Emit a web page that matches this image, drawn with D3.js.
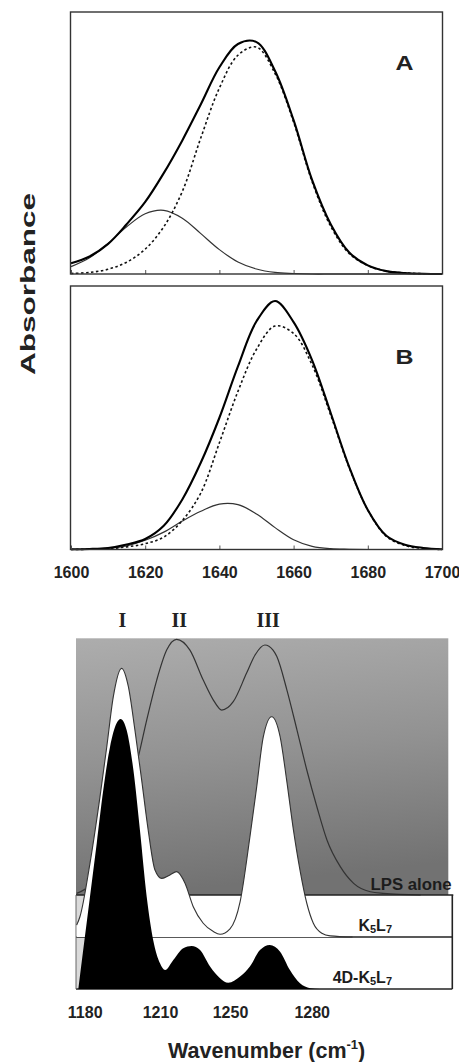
<!DOCTYPE html>
<html>
<head>
<meta charset="utf-8">
<script src="https://cdn.jsdelivr.net/npm/d3@7"></script>
<style>
  body { margin: 0; background: #fff; }
  svg { display: block; }
</style>
</head>
<body>
<svg class="chart" width="459" height="1062"></svg>
<script>
// ---- amide I band fits (top panels), absorbance in arbitrary units ----
const wnTop = [1600, 1605, 1610, 1615, 1620, 1625, 1630, 1635, 1640, 1645, 1650,
               1655, 1660, 1665, 1670, 1675, 1680, 1685, 1690, 1695, 1700];
const topTicks = [1600, 1620, 1640, 1660, 1680, 1700];

const aTotal = [0.041, 0.067, 0.115, 0.19, 0.275, 0.385, 0.51, 0.648, 0.789, 0.878, 0.885,
                0.775, 0.587, 0.358, 0.19, 0.082, 0.033, 0.011, 0.004, 0.001, 0];
const aMain  = [0.002, 0.006, 0.018, 0.045, 0.095, 0.18, 0.315, 0.52, 0.71, 0.835, 0.866,
                0.765, 0.58, 0.352, 0.182, 0.078, 0.032, 0.011, 0.004, 0.001, 0];
const aMinor = [0.028, 0.062, 0.116, 0.18, 0.23, 0.243, 0.213, 0.154, 0.093, 0.046, 0.019,
                0.006, 0.002, 0, 0, 0, 0, 0, 0, 0, 0];

const bTotal = [0.001, 0.002, 0.006, 0.019, 0.04, 0.09, 0.19, 0.33, 0.5, 0.695, 0.866,
                0.943, 0.863, 0.718, 0.518, 0.313, 0.15, 0.052, 0.018, 0.006, 0.001];
const bMain  = [0, 0.001, 0.003, 0.01, 0.022, 0.047, 0.11, 0.215, 0.405, 0.6, 0.76,
                0.848, 0.82, 0.70, 0.51, 0.31, 0.15, 0.05, 0.015, 0.004, 0];
const bMinor = [0, 0.001, 0.005, 0.014, 0.035, 0.066, 0.108, 0.145, 0.172, 0.17, 0.135,
                0.083, 0.037, 0.012, 0.003, 0.001, 0, 0, 0, 0, 0];

// ---- phosphate region spectra (bottom panel) ----
const bottomTicks = [1180, 1210, 1250, 1280];
const bandNames = ["I", "II", "III"];
const bandWn = [1195, 1221, 1264];

const lpsWn  = [1176.8, 1182.1, 1186.1, 1190.1, 1194.1, 1198.1, 1200.7, 1204.7, 1208.7, 1213.8,
                1219.5, 1227.1, 1234.7, 1240.5, 1245.3, 1251.2, 1256.1, 1259.2, 1262.8, 1265.8,
                1267.2, 1270.9, 1274.6, 1278.2, 1281.9, 1285.6, 1290.5, 1295.4, 1301.5, 1306.4, 1320];
const lpsAbs = [0.006, 0.037, 0.093, 0.185, 0.315, 0.415, 0.488, 0.648, 0.796, 0.907,
                0.947, 0.907, 0.796, 0.722, 0.685, 0.716, 0.822, 0.889, 0.926, 0.907,
                0.883, 0.759, 0.611, 0.463, 0.327, 0.204, 0.105, 0.043, 0.012, 0.006, 0];

const k5Wn  = [1176.8, 1178.1, 1182.1, 1186.1, 1188.8, 1191.4, 1194.7, 1197.4, 1200, 1202.7,
               1205.3, 1208, 1211, 1215.7, 1219.5, 1224.3, 1229, 1234.7, 1240.5, 1244.3,
               1250, 1253.7, 1257.3, 1259.8, 1262.2, 1265.3, 1268.4, 1270.8, 1273.3, 1275.7,
               1278.2, 1280.6, 1283.7, 1286.8, 1295];
const k5Abs = [0.044, 0.075, 0.273, 0.52, 0.705, 0.89, 0.995, 0.927, 0.767, 0.581,
               0.396, 0.248, 0.217, 0.23, 0.242, 0.199, 0.112, 0.051, 0.02, 0.01,
               0.03, 0.13, 0.37, 0.556, 0.74, 0.816, 0.742, 0.581, 0.396, 0.248,
               0.125, 0.051, 0.014, 0.004, 0];

const d4Wn  = [1177.5, 1179.4, 1182.1, 1184.8, 1187.4, 1190.1, 1192.7, 1194.3, 1196.7, 1199.4,
               1202, 1204.7, 1207.3, 1210, 1212.9, 1217.6, 1223.3, 1228.1, 1232.9, 1238.6,
               1244.3, 1249, 1253.7, 1257.3, 1261, 1264.6, 1268.4, 1272, 1275.7, 1279.4, 1283];
const d4Abs = [0.003, 0.144, 0.342, 0.54, 0.737, 0.897, 0.984, 1.0, 0.959, 0.811,
               0.589, 0.342, 0.181, 0.095, 0.07, 0.107, 0.151, 0.159, 0.144, 0.083,
               0.04, 0.023, 0.046, 0.083, 0.144, 0.163, 0.138, 0.07, 0.021, 0.003, 0];

const svg = d3.select(".chart");
const ink = "#222";
const sans = "Liberation Sans, Arial, sans-serif";

// ================= top panels =================
const x = d3.scaleLinear().domain([1600, 1700]).range([71, 442]);
const frameL = 70.5, frameR = 442.5;

const panels = [
  {label: "A", top: 12, bottom: 274, total: aTotal, main: aMain, minor: aMinor, labels: false},
  {label: "B", top: 286, bottom: 549.5, total: bTotal, main: bMain, minor: bMinor, labels: true}
];

panels.forEach(p => {
  const y = d3.scaleLinear().domain([0, 1]).range([p.bottom, p.top]);
  const g = svg.append("g");

  const line = d3.line()
      .x(d => x(d[0]))
      .y(d => y(d[1]))
      .curve(d3.curveCatmullRom);

  g.append("path")
      .datum(d3.zip(wnTop, p.minor))
      .attr("fill", "none")
      .attr("stroke", "#333")
      .attr("stroke-width", 1.2)
      .attr("d", line);

  g.append("path")
      .datum(d3.zip(wnTop, p.main))
      .attr("fill", "none")
      .attr("stroke", "#111")
      .attr("stroke-width", 1.6)
      .attr("stroke-dasharray", "2.5,2.5")
      .attr("d", line);

  g.append("path")
      .datum(d3.zip(wnTop, p.total))
      .attr("fill", "none")
      .attr("stroke", "#000")
      .attr("stroke-width", 2.1)
      .attr("d", line);

  const axis = g.append("g")
      .attr("transform", `translate(0,${p.bottom})`)
      .call(d3.axisBottom(x)
          .tickValues(topTicks)
          .tickSizeInner(-4)
          .tickSizeOuter(0)
          .tickPadding(17)
          .tickFormat(p.labels ? d3.format("d") : () => ""));
  axis.select(".domain").remove();
  axis.selectAll("line").attr("stroke", "#555");
  axis.selectAll("text")
      .attr("font-family", sans)
      .attr("font-weight", "bold")
      .attr("font-size", 16)
      .attr("fill", ink);

  g.append("rect")
      .attr("x", frameL)
      .attr("y", p.top)
      .attr("width", frameR - frameL)
      .attr("height", p.bottom - p.top)
      .attr("fill", "none")
      .attr("stroke", "#333")
      .attr("stroke-width", 1.4);

  g.append("text")
      .attr("x", 395.5)
      .attr("y", p.top + (p.label === "A" ? 57.5 : 77.5))
      .attr("font-family", sans)
      .attr("font-weight", "bold")
      .attr("font-size", 21)
      .attr("textLength", 18)
      .attr("lengthAdjust", "spacingAndGlyphs")
      .attr("fill", ink)
      .text(p.label);
});

svg.append("text")
    .attr("transform", "translate(35,284) rotate(-90)")
    .attr("text-anchor", "middle")
    .attr("font-family", sans)
    .attr("font-weight", "bold")
    .attr("font-size", 21)
    .attr("textLength", 182)
    .attr("lengthAdjust", "spacingAndGlyphs")
    .attr("fill", ink)
    .text("Absorbance");

// ================= bottom panel =================
// tick labels are unevenly spaced in the original, so the scale is piecewise
const xb = d3.scaleLinear().domain(bottomTicks).range([84.7, 160, 230, 311.7]);
const boxL = 76, boxR = 452.3, gradR = 448.3;
const gradTop = 638.3, lpsBase = 895, k5Base = 937, d4Base = 989;
const hb = 270;

const yLps = d3.scaleLinear().domain([0, 1]).range([lpsBase, lpsBase - hb]);
const yK5  = d3.scaleLinear().domain([0, 1]).range([k5Base, k5Base - hb]);
const yD4  = d3.scaleLinear().domain([0, 1]).range([d4Base, d4Base - hb]);

const defs = svg.append("defs");
const grad = defs.append("linearGradient")
    .attr("id", "bg")
    .attr("x1", 0).attr("y1", 0)
    .attr("x2", 0.15).attr("y2", 1);
grad.append("stop").attr("offset", 0).attr("stop-color", "#adadad");
grad.append("stop").attr("offset", 0.5).attr("stop-color", "#929292");
grad.append("stop").attr("offset", 1).attr("stop-color", "#727272");

const bot = svg.append("g");

bot.append("rect")
    .attr("x", boxL)
    .attr("y", gradTop)
    .attr("width", gradR - boxL)
    .attr("height", lpsBase - gradTop)
    .attr("fill", "url(#bg)");

// light grey left of the first band inside the two lower strips
bot.append("rect")
    .attr("x", boxL)
    .attr("y", lpsBase)
    .attr("width", xb(bandWn[0]) - boxL)
    .attr("height", d4Base - lpsBase)
    .attr("fill", "#dadada");

const lpsLine = d3.line()
    .x(d => xb(d[0]))
    .y(d => yLps(d[1]))
    .curve(d3.curveMonotoneX);

bot.append("path")
    .datum(d3.zip(lpsWn, lpsAbs))
    .attr("fill", "none")
    .attr("stroke", "#333")
    .attr("stroke-width", 1.2)
    .attr("d", lpsLine);

// strip borders
const hLines = [[lpsBase, boxR + 1], [k5Base, boxR], [d4Base, boxR]];
bot.selectAll(".hline")
    .data(hLines)
    .join("line")
    .attr("x1", boxL)
    .attr("x2", d => d[1])
    .attr("y1", d => d[0])
    .attr("y2", d => d[0])
    .attr("stroke", ink)
    .attr("stroke-width", 1.6);

bot.append("line")
    .attr("x1", boxR).attr("x2", boxR)
    .attr("y1", lpsBase).attr("y2", d4Base)
    .attr("stroke", ink)
    .attr("stroke-width", 1.6);

bot.append("line")
    .attr("x1", boxL).attr("x2", boxL)
    .attr("y1", lpsBase).attr("y2", d4Base)
    .attr("stroke", "#666")
    .attr("stroke-width", 1);

// K5L7: white band
const k5Data = d3.zip(k5Wn, k5Abs);
bot.append("path")
    .datum(k5Data)
    .attr("fill", "#fff")
    .attr("d", d3.area()
        .x(d => xb(d[0]))
        .y0(k5Base)
        .y1(d => yK5(d[1]))
        .curve(d3.curveMonotoneX));

bot.append("path")
    .datum(k5Data)
    .attr("fill", "none")
    .attr("stroke", "#333")
    .attr("stroke-width", 1.1)
    .attr("d", d3.line()
        .x(d => xb(d[0]))
        .y(d => yK5(d[1]))
        .curve(d3.curveMonotoneX));

// 4D-K5L7: black band
bot.append("path")
    .datum(d3.zip(d4Wn, d4Abs))
    .attr("fill", "#000")
    .attr("d", d3.area()
        .x(d => xb(d[0]))
        .y0(d4Base)
        .y1(d => yD4(d[1]))
        .curve(d3.curveMonotoneX));

// band numerals
bot.selectAll(".band")
    .data(d3.zip(bandNames, bandWn))
    .join("text")
    .attr("x", d => xb(d[1]))
    .attr("y", 626.7)
    .attr("text-anchor", "middle")
    .attr("font-family", "Liberation Serif, Times New Roman, serif")
    .attr("font-weight", "bold")
    .attr("font-size", 20)
    .attr("fill", ink)
    .text(d => d[0]);

// strip labels
bot.append("text")
    .attr("x", 451.5)
    .attr("y", 890)
    .attr("text-anchor", "end")
    .attr("font-family", sans)
    .attr("font-weight", "bold")
    .attr("font-size", 16)
    .attr("textLength", 81)
    .attr("lengthAdjust", "spacingAndGlyphs")
    .attr("fill", "#1c1c1c")
    .text("LPS alone");

function peptideLabel(prefix, yPos) {
  const t = bot.append("text")
      .attr("x", 392)
      .attr("y", yPos)
      .attr("text-anchor", "end")
      .attr("font-family", sans)
      .attr("font-weight", "bold")
      .attr("font-size", 16)
      .attr("fill", "#1c1c1c");
  t.append("tspan").text(prefix + "K");
  t.append("tspan").attr("font-size", 11).attr("dy", 2).text("5");
  t.append("tspan").attr("dy", -2).text("L");
  t.append("tspan").attr("font-size", 11).attr("dy", 2).text("7");
}
peptideLabel("", 931);
peptideLabel("4D-", 983);

const bAxis = bot.append("g")
    .attr("transform", `translate(0,${d4Base})`)
    .call(d3.axisBottom(xb)
        .tickValues(bottomTicks)
        .tickSize(0)
        .tickPadding(17.5)
        .tickFormat(d3.format("d")));
bAxis.select(".domain").remove();
bAxis.selectAll("text")
    .attr("font-family", sans)
    .attr("font-weight", "bold")
    .attr("font-size", 16)
    .attr("fill", ink);

const title = bot.append("text")
    .attr("x", 266.7)
    .attr("y", 1058)
    .attr("text-anchor", "middle")
    .attr("font-family", sans)
    .attr("font-weight", "bold")
    .attr("font-size", 21.5)
    .attr("fill", ink);
title.append("tspan").text("Wavenumber (cm");
title.append("tspan").attr("font-size", 13).attr("dy", -9).text("-1");
title.append("tspan").attr("dy", 9).text(")");
</script>
</body>
</html>
